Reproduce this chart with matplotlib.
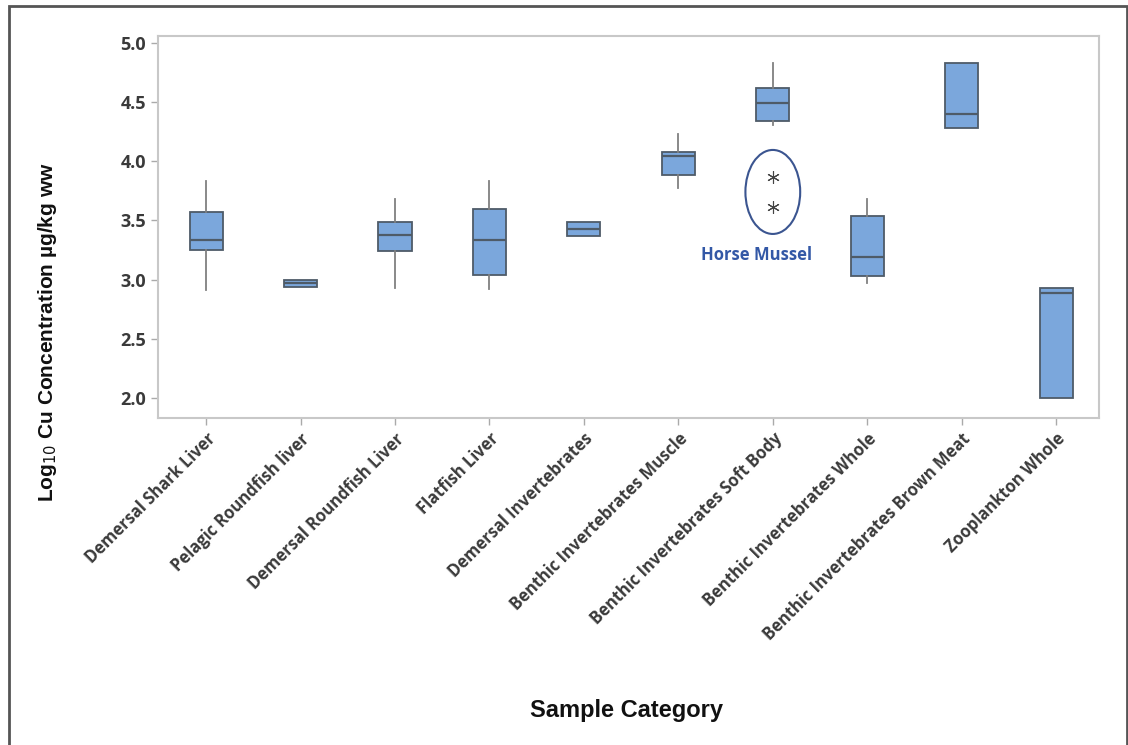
import numpy as np
import matplotlib.pyplot as plt
from matplotlib.patches import Ellipse, Rectangle

categories = [
    "Demersal Shark Liver", "Pelagic Roundfish liver", "Demersal Roundfish Liver",
    "Flatfish Liver", "Demersal Invertebrates", "Benthic Invertebrates Muscle",
    "Benthic Invertebrates Soft Body", "Benthic Invertebrates Whole",
    "Benthic Invertebrates Brown Meat", "Zooplankton Whole",
]
whisker_low = [2.91, 2.94, 2.93, 2.92, 3.37, 3.77, 4.31, 2.97, 4.28, 2.00]
q1 = [3.25, 2.94, 3.24, 3.04, 3.37, 3.88, 4.34, 3.03, 4.28, 2.00]
median = [3.33, 2.97, 3.38, 3.33, 3.43, 4.04, 4.49, 3.19, 4.40, 2.89]
q3 = [3.57, 3.00, 3.49, 3.60, 3.49, 4.08, 4.62, 3.54, 4.83, 2.93]
whisker_high = [3.83, 3.00, 3.68, 3.83, 3.49, 4.23, 4.83, 3.68, 4.83, 2.93]
outliers = {7: [3.87, 3.61]}  # Horse Mussel, soft body category

plt.rcParams["font.family"] = ["Liberation Sans", "DejaVu Sans"]

fig = plt.figure(figsize=(11.28, 7.45), dpi=100)
ax = fig.add_axes([0.140, 0.439, 0.834, 0.513])

stats = []
for i in range(len(categories)):
    stats.append({
        "whislo": whisker_low[i], "q1": q1[i], "med": median[i],
        "q3": q3[i], "whishi": whisker_high[i],
        "fliers": outliers.get(i + 1, []),
    })

positions = np.arange(1, len(categories) + 1)
ax.bxp(stats, positions=positions, widths=0.35, patch_artist=True, showcaps=False,
       boxprops=dict(facecolor="#7ba7dc", edgecolor="#4e5b68", linewidth=1.3),
       medianprops=dict(color="#4e5b68", linewidth=1.6),
       whiskerprops=dict(color="#808080", linewidth=1.3),
       flierprops=dict(marker=(6, 2, 0), markersize=9, markeredgecolor="#444444",
                       markeredgewidth=0.8, linestyle="none"))

# circle around the horse mussel outliers
ax.add_patch(Ellipse((7, 3.74), 0.58, 0.71, fill=False, edgecolor="#3b5590", linewidth=1.5))
ax.text(6.83, 3.21, "Horse Mussel", ha="center", va="center", fontsize=12,
        fontweight="bold", color="#3358a6", family="Open Sans")

ax.set_xlim(0.49, 10.45)
ax.set_ylim(1.83, 5.06)
ax.set_yticks([2.0, 2.5, 3.0, 3.5, 4.0, 4.5, 5.0])
ax.set_yticklabels([f"{v:.1f}" for v in ax.get_yticks()], fontsize=13,
                   fontweight="bold", color="#3a3a3a", family="Open Sans")
ax.set_xticks(positions)
ax.set_xticklabels(categories, rotation=45, ha="right", rotation_mode="anchor",
                   fontsize=11.9, fontweight="bold", color="#3a3a3a", family="Open Sans")
ax.tick_params(axis="both", color="#aaaaaa", length=5, width=1)
for s in ax.spines.values():
    s.set_color("#c8c8c8")
    s.set_linewidth(1.5)

fig.text(0.042, 1 - 332 / 745, "Log$_{10}$ Cu Concentration µg/kg ww", rotation=90,
         ha="center", va="center", fontsize=15, fontweight="bold", color="#111111")
fig.text(627 / 1128, 1 - 711 / 745, "Sample Category", ha="center", va="center",
         fontsize=17, fontweight="bold", color="#111111",
         family=["Liberation Sans Narrow", "Liberation Sans"])

# outer frame of the figure
fig.patches.append(Rectangle((9 / 1128, -0.02), 1118 / 1128, 1.012,
                             transform=fig.transFigure, fill=False,
                             edgecolor="#555555", linewidth=2))

fig.savefig("out.png", dpi=100)
